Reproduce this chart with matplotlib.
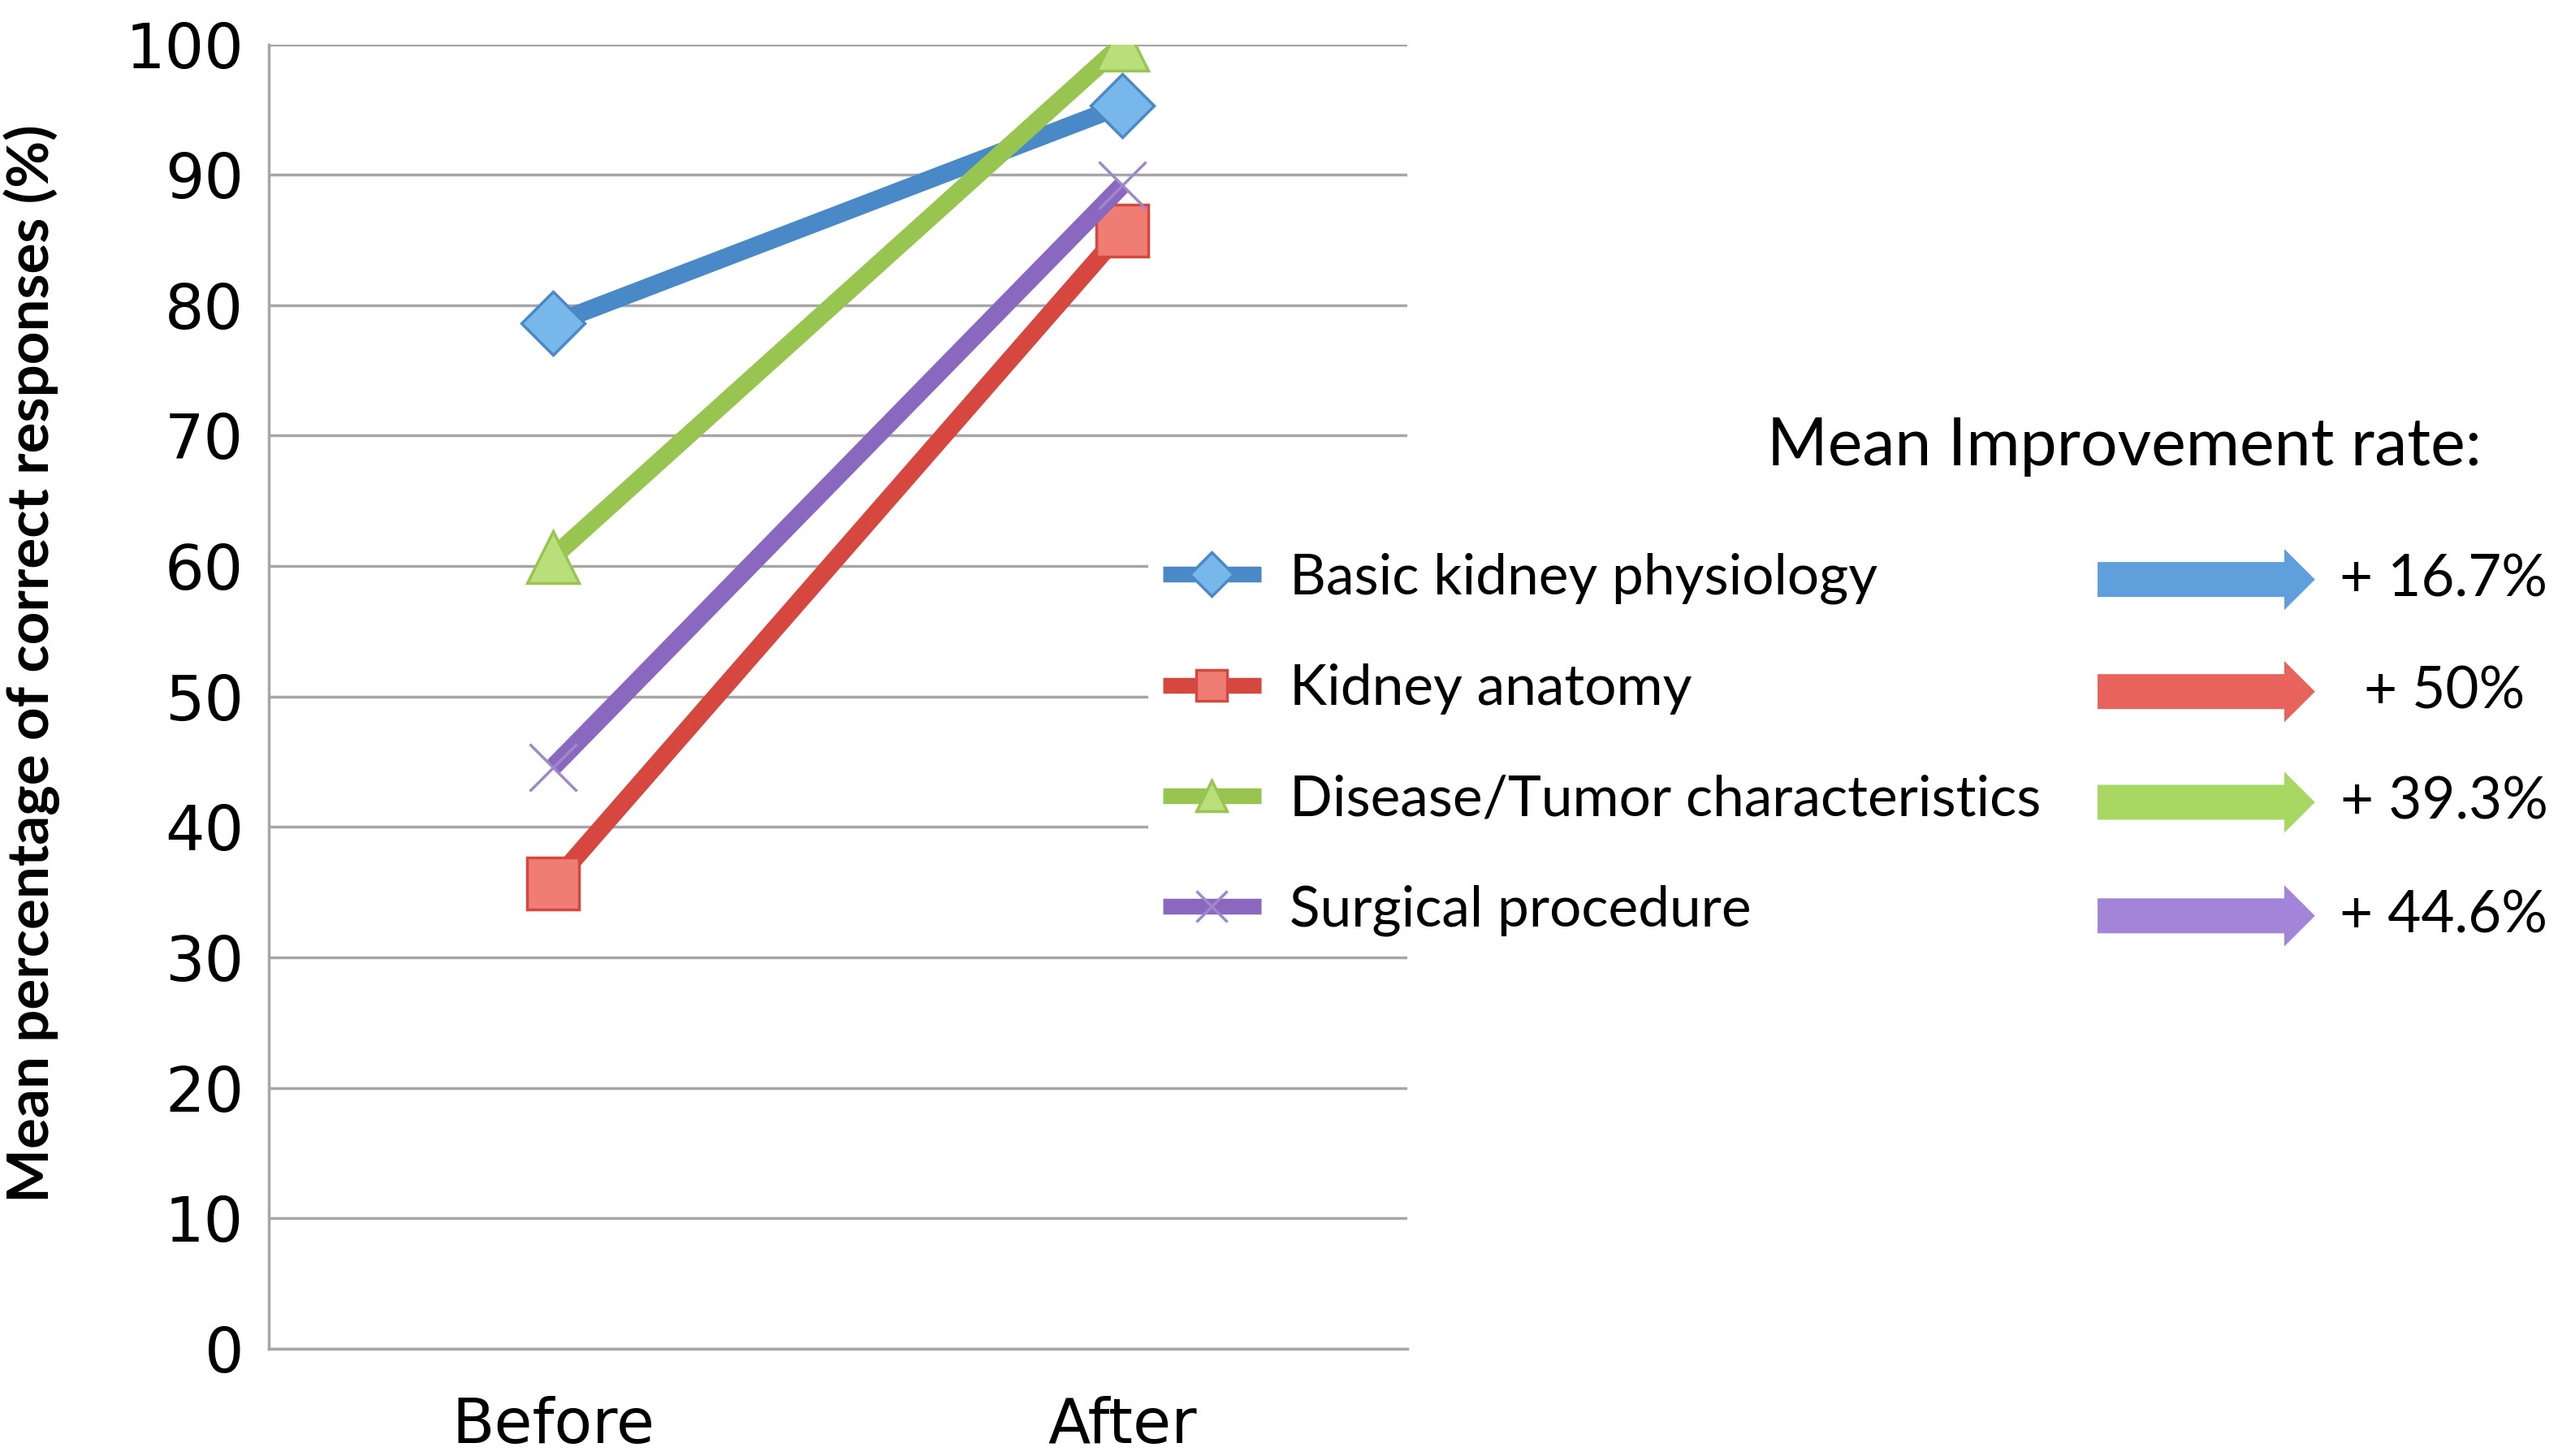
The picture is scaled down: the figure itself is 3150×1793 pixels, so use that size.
import matplotlib
matplotlib.use("Agg")
import matplotlib.pyplot as plt
from matplotlib.patches import FancyArrow

# data
stages = ["Before", "After"]
series_names = ["Basic kidney physiology", "Kidney anatomy",
                "Disease/Tumor characteristics", "Surgical procedure"]
before = [78.6, 35.7, 60.7, 44.6]
after = [95.3, 85.7, 100.0, 89.2]
improvement = ["+ 16.7%", "+ 50%", "+ 39.3%", "+ 44.6%"]
y_ticks = [0, 10, 20, 30, 40, 50, 60, 70, 80, 90, 100]

line_colors = ["#4a89c8", "#d5473f", "#98c450", "#8a68bf"]
face_colors = ["#78b7ea", "#f07d74", "#b9df7a", "#a68bd6"]
arrow_colors = ["#5fa0dc", "#e8635c", "#a8d862", "#a285d8"]
markers = ["D", "s", "^", "x"]
marker_sizes = [40, 46, 46, 42]

fig = plt.figure(figsize=(31.5, 17.93), dpi=100)
ax = fig.add_axes([0.105, 0.0736, 0.445, 0.896])

xpos = [0.5, 1.5]
for i, name in enumerate(series_names):
    mk = markers[i]
    if mk == "x":
        ax.plot(xpos, [before[i], after[i]], color=line_colors[i], lw=16,
                marker=mk, markersize=marker_sizes[i], markeredgecolor="#9d88cc",
                markeredgewidth=2.5, label=name, solid_capstyle="butt", zorder=3)
    else:
        ax.plot(xpos, [before[i], after[i]], color=line_colors[i], lw=16,
                marker=mk, markersize=marker_sizes[i], markerfacecolor=face_colors[i],
                markeredgecolor=line_colors[i], markeredgewidth=2.5, label=name,
                solid_capstyle="butt", zorder=3)

ax.set_xlim(0, 2)
ax.set_ylim(0, 100)
ax.set_xticks(xpos)
ax.set_xticklabels(stages, fontsize=55, family="DejaVu Sans")
ax.set_yticks(y_ticks)
ax.set_yticklabels([str(v) for v in y_ticks], fontsize=55, family="DejaVu Sans")
ax.tick_params(length=0, pad=22)
ax.tick_params(axis="x", pad=42)
ax.grid(axis="y", color="#a6a6a6", lw=2.5, zorder=0)
for side in ["top", "right"]:
    ax.spines[side].set_visible(False)
for side in ["left", "bottom"]:
    ax.spines[side].set_color("#a6a6a6")
    ax.spines[side].set_linewidth(2.5)
ax.set_ylabel("Mean percentage of correct responses (%)", fontsize=51,
              fontweight="bold", family="Lato")
ax.yaxis.set_label_coords(-0.183, 0.525)

leg = ax.legend(loc="upper left", bbox_to_anchor=(0.449, 0.630), bbox_transform=fig.transFigure,
                frameon=True, framealpha=1, edgecolor="white",
                prop={"family": "Lato", "size": 50}, handlelength=1.75,
                labelspacing=1.05, borderpad=0.25, handletextpad=0.5, borderaxespad=0)
leg.get_frame().set_linewidth(0)
for h in leg.legend_handles:
    h.set_markersize(28)
    h.set_linewidth(14)

fig.text(0.97, 0.693, "Mean Improvement rate:", fontsize=58, family="Lato",
         ha="right", va="center")

row_y = [0.602, 0.525, 0.449, 0.371]
for i in range(len(series_names)):
    arr = FancyArrow(0.82, row_y[i], 0.085, 0, width=0.024, head_width=0.042,
                     head_length=0.012, length_includes_head=True,
                     transform=fig.transFigure, color=arrow_colors[i], lw=0)
    fig.patches.append(arr)
    fig.text(0.996 if i != 1 else 0.987, row_y[i], improvement[i], fontsize=51,
             family="Lato", ha="right", va="center")

fig.savefig("out.png", dpi=100, facecolor="white")
